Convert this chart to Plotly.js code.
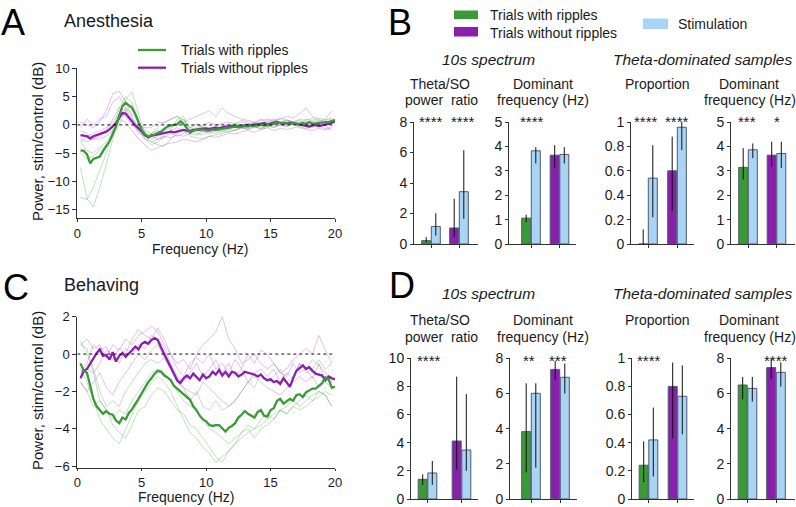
<!DOCTYPE html>
<html><head><meta charset="utf-8">
<script src="https://cdn.plot.ly/plotly-3.0.1.min.js"></script>
<style>html,body{margin:0;padding:0;background:#fff}#chart{width:796px;height:507px}</style>
</head><body><div id="chart"></div>
<script>
// ---------- DATA ----------
const freqThick = [0.25,0.5,0.75,1,1.25,1.5,1.75,2,2.25,2.5,2.75,3,3.25,3.5,3.75,4,4.25,4.5,4.75,5,
5.25,5.5,5.75,6,6.25,6.5,6.75,7,7.25,7.5,7.75,8,8.25,8.5,8.75,9,9.25,9.5,9.75,10,
10.25,10.5,10.75,11,11.25,11.5,11.75,12,12.25,12.5,12.75,13,13.25,13.5,13.75,14,14.25,14.5,14.75,15,
15.25,15.5,15.75,16,16.25,16.5,16.75,17,17.25,17.5,17.75,18,18.25,18.5,18.75,19,19.25,19.5,19.75,20];
const freqThin = [0.25,0.75,1.25,1.75,2.25,2.75,3.25,3.75,4.25,4.75,5.25,5.75,6.25,6.75,7.25,7.75,8.25,8.75,9.25,9.75,
10.25,10.75,11.25,11.75,12.25,12.75,13.25,13.75,14.25,14.75,15.25,15.75,16.25,16.75,17.25,17.75,18.25,18.75,19.25,19.75];

// Panel A (anesthesia) mean curves
const anesRipples = [-4.5,-4.6,-5.2,-6.8,-6.0,-5.8,-5.6,-4.6,-3.8,-2.9,
-1.6,-0.3,1.6,3.3,3.9,3.5,3.0,1.9,0.5,-0.9,
-1.6,-2.2,-1.8,-1.7,-1.4,-1.2,-0.7,-0.3,-0.1,0.0,
0.1,0.6,0.2,-0.6,-1.4,-1.0,-0.8,-0.9,-0.8,-1.0,
-1.0,-0.8,-0.9,-0.8,-0.7,-0.7,-0.6,-0.5,-0.3,-0.4,
-0.3,-0.2,-0.3,-0.1,-0.2,-0.1,0.0,-0.1,0.1,0.0,
0.2,0.4,0.3,0.4,0.3,0.2,0.3,0.1,0.2,0.3,
0.2,0.5,0.2,0.3,0.3,0.4,0.5,0.5,0.7,0.9];
const anesNoRipples = [-1.8,-1.9,-2.0,-2.4,-2.0,-1.8,-1.6,-1.5,-1.2,-0.8,
-0.2,0.3,1.2,2.1,2.0,1.3,0.4,-0.1,-0.6,-1.2,
-1.8,-2.2,-1.9,-1.8,-1.7,-1.6,-1.4,-1.3,-1.2,-1.3,
-1.2,-1.1,-0.9,-1.0,-1.1,-0.9,-0.9,-0.7,-0.6,-0.6,
-0.7,-0.6,-0.5,-0.6,-0.4,-0.3,-0.3,-0.2,-0.3,-0.2,
-0.1,-0.1,0.0,-0.1,0.1,0.1,0.2,0.3,0.1,0.2,
0.3,0.5,0.3,0.2,0.3,0.4,0.3,0.2,0.1,0.0,
-0.2,-0.3,-0.1,0.0,-0.2,-0.1,0.1,0.2,0.4,0.6];
// Panel A individual animals
const anesRipplesInd1 = [-7.5,-13.0,-14.5,-11.0,-7.0,-2.5,2.0,4.5,5.8,2.0,-1.5,-2.5,-2.0,-1.0,-0.5,0.5,1.0,-0.5,0.2,-0.5,
-1.0,-0.2,-0.8,-0.5,0.3,-0.2,0.0,0.5,0.2,0.8,1.0,0.5,0.9,0.6,0.3,1.0,0.7,1.2,0.9,1.3];
const anesRipplesInd2 = [-12.8,-13.2,-11.0,-8.0,-5.0,-1.0,3.0,5.0,4.0,0.0,-2.5,-3.5,-3.0,-2.0,-1.0,1.0,1.5,-1.0,-1.5,-1.8,
-1.2,-1.5,-1.0,-1.3,-0.8,-0.5,-0.6,-0.3,-0.8,-0.5,0.2,0.5,0.0,0.4,0.8,0.3,0.6,0.2,0.8,1.0];
const anesRipplesInd3 = [-3.0,-4.5,-5.0,-4.0,-3.0,-1.5,1.0,3.0,2.0,0.5,-1.0,-1.5,-0.5,0.5,1.0,1.5,0.8,-0.5,0.0,-0.3,
-0.8,0.0,-0.3,0.2,0.0,0.5,0.2,0.0,0.5,0.3,0.6,0.2,0.8,0.5,0.2,0.6,0.4,0.8,0.3,0.5];
const anesRipplesInd4 = [-5.0,-6.0,-5.5,-4.5,-3.5,-2.0,0.0,2.5,3.5,1.0,-2.0,-3.0,-3.5,-3.8,-2.5,-1.5,-1.0,-2.0,-2.2,-2.5,
-2.0,-1.8,-1.5,-1.2,-1.0,-0.5,-0.8,-0.4,-0.6,-0.2,-0.4,0.0,-0.3,0.2,-0.1,0.3,0.1,0.5,0.2,0.6];
const anesNoRipInd1 = [0.5,0.0,-0.5,0.5,2.5,5.5,6.0,4.0,1.5,-1.0,-2.5,-3.0,-2.5,-2.0,-2.3,-1.8,-2.0,-1.5,-1.8,-1.2,
-1.5,-1.0,-1.2,-0.8,-1.0,-0.5,-0.8,-0.3,-0.6,-0.2,-0.5,0.0,-0.3,0.3,-0.5,-0.8,-1.0,-0.6,-0.9,-0.5];
const anesNoRipInd2 = [-0.5,1.0,0.0,1.0,1.5,4.0,5.0,3.0,1.0,0.0,-0.5,-0.5,0.5,0.3,1.0,1.5,0.5,1.0,1.5,2.0,
2.5,1.5,3.0,2.0,1.5,1.0,0.8,0.5,1.0,0.5,0.8,1.0,1.5,1.2,2.0,3.0,1.5,1.0,0.5,0.0];
const anesNoRipInd3 = [-2.5,-3.0,-2.5,-2.5,-2.0,-1.0,1.0,0.5,-1.0,-2.5,-3.5,-4.5,-4.0,-3.5,-3.2,-3.0,-2.5,-2.8,-3.0,-2.5,
-2.0,-2.2,-1.8,-1.5,-1.6,-1.2,-1.0,-1.3,-0.8,-0.5,-1.0,-0.6,-0.8,-0.5,-0.3,-0.6,-0.4,-0.2,-0.7,-0.3];
const anesNoRipInd4 = [-1.0,-1.5,-2.5,-2.0,-1.0,1.0,3.0,2.5,0.5,-1.5,-2.0,-1.5,-1.0,-1.5,-1.0,-0.5,-1.0,-0.8,-0.5,0.0,
0.5,0.0,0.3,0.5,0.2,0.8,0.5,0.3,0.8,1.0,0.6,1.2,0.8,0.5,1.0,0.8,1.2,0.6,1.0,2.5];
const anesNoRipInd5 = [-3.0,-2.0,-1.5,-1.0,-0.5,0.5,2.0,1.5,0.0,-1.0,-1.5,-2.0,-2.5,-2.2,-1.5,-2.0,-1.5,-1.2,-1.0,-1.2,
-0.8,-1.0,-0.5,-0.8,-0.3,-0.5,0.0,-0.2,0.2,-0.3,0.5,0.2,0.5,0.0,0.6,0.3,-0.3,0.5,-0.2,-1.0];

// Panel C (behaving) mean curves
const behRipples = [-0.5,-0.9,-1.0,-1.7,-2.4,-2.8,-3.0,-3.2,-3.05,-3.2,
-3.25,-3.55,-3.7,-3.4,-3.5,-3.15,-2.95,-2.7,-2.4,-2.1,
-1.8,-1.5,-1.3,-1.05,-0.9,-0.95,-1.15,-1.25,-1.4,-1.7,
-1.85,-2.0,-2.1,-2.3,-2.45,-2.8,-3.0,-3.3,-3.5,-3.6,
-3.8,-3.85,-3.8,-3.8,-4.0,-4.15,-3.95,-3.85,-3.7,-3.4,
-3.25,-3.05,-3.2,-3.3,-3.4,-3.1,-3.0,-3.3,-3.35,-3.0,
-2.9,-2.5,-2.4,-2.65,-2.5,-2.4,-2.5,-2.2,-2.15,-2.3,
-2.05,-1.95,-1.85,-1.85,-1.7,-1.55,-1.25,-1.35,-1.8,-1.75];
const behNoRipples = [-1.3,-0.9,-0.8,-0.5,-0.25,0.05,0.25,-0.1,-0.05,-0.3,
0.1,-0.4,-0.1,0.05,-0.15,0.0,0.2,0.4,0.25,0.55,
0.65,0.55,0.75,0.85,0.75,0.35,0.0,-0.35,-0.75,-1.1,
-1.4,-1.55,-1.3,-1.15,-1.3,-1.05,-1.2,-1.4,-1.1,-1.3,
-1.2,-0.95,-1.1,-0.85,-1.15,-0.95,-1.2,-0.95,-1.0,-1.2,
-1.1,-0.95,-1.0,-1.05,-1.1,-1.2,-1.1,-1.3,-1.4,-1.35,
-1.5,-1.45,-1.6,-1.3,-1.5,-1.75,-1.3,-0.9,-0.75,-0.6,
-0.8,-0.7,-0.9,-1.05,-1.1,-1.15,-1.4,-1.2,-1.3,-1.35];
// Panel C individual animals
const behRipplesInd1 = [-0.8,-1.5,-2.5,-3.5,-4.0,-4.5,-4.8,-4.0,-3.2,-2.5,-2.0,-1.5,-1.2,-1.5,-2.0,-2.8,-3.5,-4.2,-4.5,-5.0,
-5.3,-5.8,-5.5,-5.2,-4.8,-4.5,-4.2,-4.0,-3.8,-3.5,-3.2,-3.0,-3.2,-2.8,-2.5,-2.2,-2.5,-2.0,-2.2,-2.8];
const behRipplesInd2 = [0.5,0.3,-1.0,-2.5,-3.0,-3.8,-4.2,-4.5,-3.8,-3.0,-2.8,-2.2,-1.8,-2.0,-2.5,-3.0,-3.2,-3.8,-4.0,-4.5,
-5.0,-5.5,-5.8,-5.2,-4.8,-4.2,-4.0,-4.5,-4.0,-3.8,-3.5,-3.0,-3.2,-2.8,-3.0,-2.8,-2.5,-2.3,-2.0,-2.2];
const behRipplesInd3 = [0.7,0.0,-0.8,-2.0,-2.8,-2.5,-2.8,-2.0,-1.5,-1.0,-0.5,-0.3,-0.5,-0.2,-0.8,-1.5,-1.8,-2.5,-2.0,-2.8,
-3.0,-2.5,-3.0,-2.8,-2.5,-2.0,-1.5,-1.8,-1.0,-1.5,-1.2,-0.8,-1.5,-1.2,-0.5,-1.0,-0.8,-0.3,-0.8,-0.5];
const behRipplesInd4 = [-1.5,-2.0,-2.8,-2.5,-3.0,-3.5,-3.0,-3.2,-2.5,-2.0,-1.5,-1.0,-0.8,-1.0,-1.5,-2.0,-2.5,-2.8,-3.0,-3.5,
-4.0,-4.2,-4.5,-4.8,-4.5,-4.2,-3.8,-4.0,-3.5,-3.2,-3.5,-3.0,-2.8,-2.5,-2.8,-2.5,-2.2,-2.0,-2.2,-2.8];
const behNoRipInd1 = [0.5,0.8,0.3,0.5,-0.2,0.5,0.2,0.8,0.5,1.0,1.2,1.5,1.2,0.5,0.0,-0.5,-0.3,-0.8,0.0,0.5,
0.8,1.2,2.0,0.8,0.3,-0.5,-0.3,0.0,-0.5,-0.8,-0.5,-1.0,-0.8,-0.3,0.0,0.3,0.0,1.0,0.2,-0.5];
const behNoRipInd2 = [-1.0,-0.5,0.5,0.2,0.4,-0.3,0.3,0.0,0.8,1.3,1.0,0.8,1.4,0.8,0.0,-0.8,-1.2,-0.5,-0.2,-0.5,
0.0,-0.8,-0.5,-1.0,-0.3,-0.8,0.0,-0.5,0.2,0.0,-0.5,-1.0,-1.2,-0.5,-1.0,-0.8,-1.3,-0.5,-1.5,-1.2];
const behNoRipInd3 = [-1.5,-2.0,-1.5,-1.0,-1.8,-2.2,-1.5,-1.0,-0.5,0.0,-0.3,0.2,0.5,-0.2,-0.8,-1.5,-1.8,-2.0,-2.2,-1.5,
-1.8,-2.2,-2.5,-2.8,-2.5,-2.0,-1.5,-1.2,-1.5,-1.8,-2.0,-2.2,-1.8,-1.5,-1.2,-1.5,-1.2,-1.8,-1.5,-1.8];
const behNoRipInd4 = [-1.2,-0.8,-1.0,-0.5,0.2,0.0,-0.5,0.3,0.0,0.5,0.3,1.0,0.8,0.3,-0.5,-1.2,-1.5,-1.0,-0.5,-1.2,
-0.8,-0.3,-1.0,-0.5,-1.2,-0.8,-1.5,-1.0,-0.8,-1.2,-0.8,-1.5,-1.0,-1.3,-0.5,-0.8,-0.3,-0.6,-1.0,-1.5];

// Bar groups: [with ripples, with ripples + stim, without ripples, without ripples + stim]
const barCategories = ['Trials with ripples','Stimulation','Trials without ripples','Stimulation'];
// Panel B (anesthesia)
const anesRatioMean = [0.22,1.15,1.05,3.43];
const anesRatioHi   = [0.45,2.02,2.97,6.15];
const anesRatioLo   = [0.10,0.55,0.48,1.65];
const anesDomFreqMean = [1.06,3.82,3.64,3.67];
const anesDomFreqHi   = [1.20,3.97,4.05,3.97];
const anesDomFreqLo   = [0.90,3.30,3.10,3.30];
const anesPropMean = [0.00,0.54,0.60,0.957];
const anesPropHi   = [0.12,0.81,0.88,1.00];
const anesPropLo   = [0.00,0.22,0.27,0.77];
const anesThetaFreqMean = [3.14,3.86,3.64,3.71];
const anesThetaFreqHi   = [3.93,4.12,4.19,4.19];
const anesThetaFreqLo   = [2.64,3.52,3.18,3.12];
// Panel D (behaving)
const behRatioMean = [1.40,1.85,4.12,3.48];
const behRatioHi   = [1.75,2.70,8.70,7.45];
const behRatioLo   = [1.00,1.00,2.10,2.00];
const behDomFreqMean = [3.83,6.01,7.37,6.92];
const behDomFreqHi   = [6.58,6.58,7.85,7.70];
const behDomFreqLo   = [1.52,1.78,6.77,6.00];
const behPropMean = [0.24,0.42,0.80,0.73];
const behPropHi   = [0.41,0.65,0.97,0.95];
const behPropLo   = [0.12,0.16,0.43,0.46];
const behThetaFreqMean = [6.48,6.29,7.47,7.20];
const behThetaFreqHi   = [6.94,6.94,8.00,7.77];
const behThetaFreqLo   = [5.67,5.54,6.82,6.39];
// significance labels per group
const starsAnesRatio = ['****','****'];
const starsAnesDomFreq = ['****',''];
const starsAnesProp = ['****','****'];
const starsAnesThetaFreq = ['***','*'];
const starsBehRatio = ['****',''];
const starsBehDomFreq = ['**','***'];
const starsBehProp = ['****',''];
const starsBehThetaFreq = ['','****'];

// ---------- STYLE / LAYOUT ----------
const W = 796, H = 507;
const px = x => x / W, py = y => 1 - y / H;
const FONT = 'Liberation Sans, Arial, Helvetica, sans-serif';
const TXT = '#1a1a1a';
const GREEN = '#3a9a36', PURPLE = '#8a1fae', LBLUE = '#a9d4f5';
const GREEN_L = 'rgba(80,170,80,0.36)', PURPLE_L = 'rgba(175,80,205,0.36)';
const AX = '#333';

const traces = [];
function line(x, y, color, width, xa, ya) {
  traces.push({type:'scatter', mode:'lines', x:x, y:y, line:{color:color, width:width},
    xaxis:xa, yaxis:ya, hoverinfo:'skip', showlegend:false});
}
// Panel A
[anesRipplesInd1,anesRipplesInd2,anesRipplesInd3,anesRipplesInd4].forEach(a=>line(freqThin,a,GREEN_L,1,'x','y'));
[anesNoRipInd1,anesNoRipInd2,anesNoRipInd3,anesNoRipInd4,anesNoRipInd5].forEach(a=>line(freqThin,a,PURPLE_L,1,'x','y'));
line(freqThick, anesNoRipples, PURPLE, 2.3, 'x','y');
line(freqThick, anesRipples, GREEN, 2.3, 'x','y');
// Panel C
[behRipplesInd1,behRipplesInd2,behRipplesInd3,behRipplesInd4].forEach(a=>line(freqThin,a,GREEN_L,1,'x2','y2'));
[behNoRipInd1,behNoRipInd2,behNoRipInd3,behNoRipInd4].forEach(a=>line(freqThin,a,PURPLE_L,1,'x2','y2'));
line(freqThick, behNoRipples, PURPLE, 2.3, 'x2','y2');
line(freqThick, behRipples, GREEN, 2.3, 'x2','y2');

const layout = {
  width: W, height: H, margin:{l:0,r:0,t:0,b:0}, paper_bgcolor:'#fff', plot_bgcolor:'rgba(0,0,0,0)',
  showlegend:false, font:{family:FONT, color:TXT, size:13},
  shapes:[], annotations:[]
};
function lineAxes(xa, ya, yTopPx, yBotPx, yRange, yTicks, xTickLen) {
  layout[xa] = {domain:[px(77.3), px(335)], range:[0,20], anchor: ya==='yaxis'?'y':'y2',
    showline:true, linecolor:AX, linewidth:1, ticks:'outside', ticklen:xTickLen, tickcolor:AX,
    tickvals:[0,5,10,15,20], showgrid:false, zeroline:false, tickfont:{size:13, color:TXT}};
  layout[ya] = {domain:[py(yBotPx), py(yTopPx)], range:yRange, anchor: xa==='xaxis'?'x':'x2',
    showline:true, linecolor:AX, linewidth:1, ticks:'outside', ticklen:4, tickcolor:AX,
    tickvals:yTicks, showgrid:false, zeroline:false, tickfont:{size:13, color:TXT}};
}
lineAxes('xaxis','yaxis', 68.3, 218, [-16.45,10], [-15,-10,-5,0,5,10], 3);
lineAxes('xaxis2','yaxis2', 316.7, 468, [-6.1,2], [-6,-4,-2,0,2], 2);
// dotted zero lines
layout.shapes.push({type:'line', xref:'x', yref:'y', x0:0, x1:20, y0:0, y1:0, line:{color:'#111', width:1, dash:'dot'}});
layout.shapes.push({type:'line', xref:'x2', yref:'y2', x0:0, x1:20, y0:0, y1:0, line:{color:'#111', width:1, dash:'dot'}});

// Bar panels
const barPanels = [
  {mean:anesRatioMean, hi:anesRatioHi, lo:anesRatioLo, stars:starsAnesRatio, ymax:8, dtick:2, x0:414, x1:478, c1:431, c2:459, yt:122, yb:244, sx:[431,463], sy:117},
  {mean:anesDomFreqMean, hi:anesDomFreqHi, lo:anesDomFreqLo, stars:starsAnesDomFreq, ymax:5, dtick:1, x0:509, x1:576, c1:531, c2:559.5, yt:122, yb:244, sx:[532,560], sy:117},
  {mean:anesPropMean, hi:anesPropHi, lo:anesPropLo, stars:starsAnesProp, ymax:1, dtick:0.2, x0:631, x1:694, c1:648, c2:677, yt:122, yb:244, sx:[646,677], sy:117},
  {mean:anesThetaFreqMean, hi:anesThetaFreqHi, lo:anesThetaFreqLo, stars:starsAnesThetaFreq, ymax:5, dtick:1, x0:731, x1:795, c1:748, c2:776.5, yt:122, yb:244, sx:[746.7,776.7], sy:117},
  {mean:behRatioMean, hi:behRatioHi, lo:behRatioLo, stars:starsBehRatio, ymax:10, dtick:2, x0:411, x1:478, c1:427.5, c2:461.5, yt:358.3, yb:499, sx:[428.8,462], sy:356},
  {mean:behDomFreqMean, hi:behDomFreqHi, lo:behDomFreqLo, stars:starsBehDomFreq, ymax:8, dtick:2, x0:510, x1:577, c1:531, c2:560, yt:358.3, yb:499, sx:[528.8,557.8], sy:356},
  {mean:behPropMean, hi:behPropHi, lo:behPropLo, stars:starsBehProp, ymax:1, dtick:0.2, x0:632, x1:694, c1:648.5, c2:677.5, yt:358.3, yb:499, sx:[649,678], sy:356},
  {mean:behThetaFreqMean, hi:behThetaFreqHi, lo:behThetaFreqLo, stars:starsBehThetaFreq, ymax:8, dtick:2, x0:731, x1:795, c1:747.5, c2:776, yt:358.3, yb:499, sx:[747,775.8], sy:356}
];
barPanels.forEach((p, i) => {
  const k = i + 3;
  const u = p.c2 - p.c1;
  const off = 4.8 / u, bw = 9 / u;
  layout['xaxis'+k] = {domain:[px(p.x0), px(p.x1)], range:[1-(p.c1-p.x0)/u, 2+(p.x1-p.c2)/u], anchor:'y'+k,
    showline:true, linecolor:AX, linewidth:1, ticks:'outside', ticklen:3, tickcolor:AX, tickvals:[1,2],
    showticklabels:false, showgrid:false, zeroline:false};
  layout['yaxis'+k] = {domain:[py(p.yb), py(p.yt)], range:[0,p.ymax], anchor:'x'+k,
    showline:true, linecolor:AX, linewidth:1, ticks:'outside', ticklen:3, tickcolor:AX, tick0:0, dtick:p.dtick,
    showgrid:false, zeroline:false, tickfont:{size:14, color:TXT}};
  traces.push({type:'bar', x:[1-off,1+off,2-off,2+off], y:p.mean, width:bw,
    text: barCategories, hoverinfo:'text+y', textposition:'none',
    marker:{color:[GREEN,LBLUE,PURPLE,LBLUE], line:{color:'#4e5d6b', width:1}},
    error_y:{type:'data', symmetric:false, array:p.hi.map((h,j)=>h-p.mean[j]), arrayminus:p.lo.map((l,j)=>p.mean[j]-l),
      color:'#111', thickness:1, width:0},
    xaxis:'x'+k, yaxis:'y'+k, showlegend:false});
  p.stars.forEach((s, j) => {
    if (s) layout.annotations.push({text:s, x:px(p.sx[j]), y:py(p.sy+4), xref:'paper', yref:'paper', showarrow:false,
      xanchor:'center', yanchor:'middle', font:{size:15, color:TXT, family:FONT}});
  });
});

function ann(text, x, y, size, xanchor, extra) {
  layout.annotations.push(Object.assign({text:text, x:px(x), y:py(y), xref:'paper', yref:'paper', showarrow:false,
    xanchor:xanchor||'center', yanchor:'middle', font:{size:size, color:TXT, family:FONT}}, extra||{}));
}
// Panel letters and titles
ann('A', -1, 22, 36, 'left', {font:{size:36, color:'#000', family:FONT}});
ann('Anesthesia', 62, 21, 18, 'left');
ann('C', 1, 287, 36, 'left', {font:{size:36, color:'#000', family:FONT}});
ann('Behaving', 62, 285, 18, 'left');
ann('B', 386, 22, 36, 'left', {font:{size:36, color:'#000', family:FONT}});
ann('D', 387, 285, 36, 'left', {font:{size:36, color:'#000', family:FONT}});
// Axis titles for line panels
ann('Frequency (Hz)', 200, 249, 14);
ann('Frequency (Hz)', 186, 497, 14);
ann('Power, stim/control (dB)', 37, 142, 15, 'center', {textangle:-90});
ann('Power, stim/control (dB)', 37, 391, 15, 'center', {textangle:-90});
// Legend panel A
layout.shapes.push({type:'line', xref:'paper', yref:'paper', x0:px(138), x1:px(166), y0:py(50), y1:py(50), line:{color:GREEN, width:2.3}});
layout.shapes.push({type:'line', xref:'paper', yref:'paper', x0:px(138), x1:px(166), y0:py(67.7), y1:py(67.7), line:{color:PURPLE, width:2.3}});
ann('Trials with ripples', 179, 50, 14, 'left');
ann('Trials without ripples', 179, 68, 14, 'left');
// Legend panel B
layout.shapes.push({type:'rect', xref:'paper', yref:'paper', x0:px(454), x1:px(478), y0:py(19), y1:py(10.5), fillcolor:GREEN, line:{width:0}});
layout.shapes.push({type:'rect', xref:'paper', yref:'paper', x0:px(454), x1:px(478), y0:py(36.5), y1:py(27), fillcolor:PURPLE, line:{width:0}});
layout.shapes.push({type:'rect', xref:'paper', yref:'paper', x0:px(643), x1:px(668), y0:py(29), y1:py(18.5), fillcolor:LBLUE, line:{width:0}});
ann('Trials with ripples', 488, 15, 14, 'left');
ann('Trials without ripples', 488, 33, 14, 'left');
ann('Stimulation', 676, 24, 14, 'left');
// Section headings
[[59, 84, 100], [293, 320, 337]].forEach(r => {
  ann('<i>10s spectrum</i>', 488.5, r[0], 15.5);
  ann('<i>Theta-dominated samples</i>', 702.5, r[0], 15.5);
  ann('Theta/SO', 440, r[1], 14);
  ann('power&nbsp;&nbsp;ratio', 441, r[2], 14);
  ann('Dominant', 542.5, r[1], 14);
  ann('frequency (Hz)', 542.5, r[2], 14);
  ann('Proportion', 657, r[1], 14);
  ann('Dominant', 749, r[1], 14);
  ann('frequency (Hz)', 749.5, r[2], 14);
});

Plotly.newPlot('chart', traces, layout, {displayModeBar:false, staticPlot:true});
</script></body></html>
